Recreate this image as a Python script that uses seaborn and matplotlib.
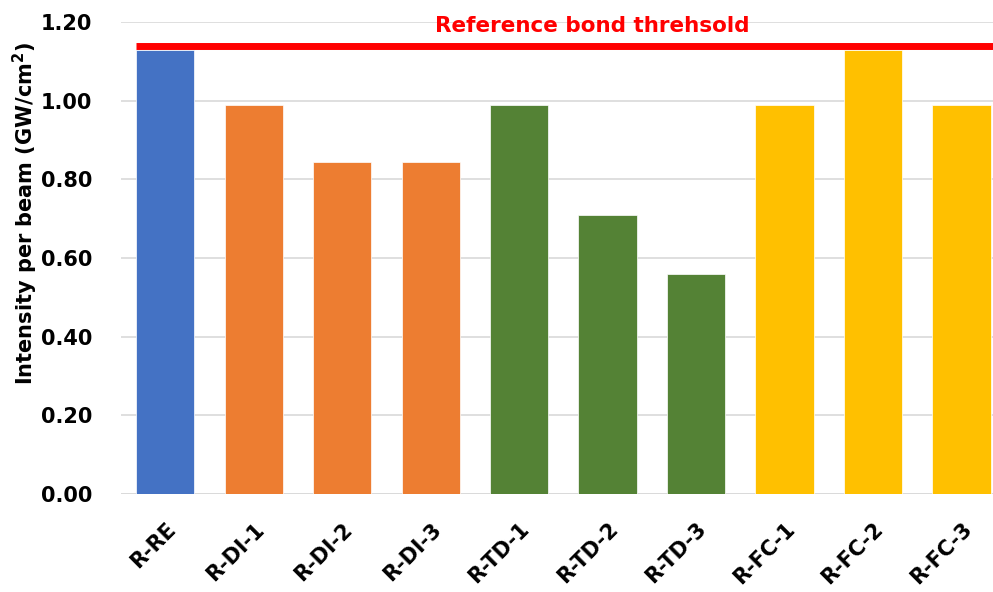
import matplotlib
matplotlib.use("Agg")
import matplotlib.pyplot as plt
import seaborn as sns
import pandas as pd

samples = ["R-RE", "R-DI-1", "R-DI-2", "R-DI-3", "R-TD-1", "R-TD-2", "R-TD-3",
           "R-FC-1", "R-FC-2", "R-FC-3"]
groups = ["RE", "DI", "DI", "DI", "TD", "TD", "TD", "FC", "FC", "FC"]
intensity = [1.13, 0.99, 0.845, 0.845, 0.99, 0.71, 0.56, 0.99, 1.13, 0.99]
threshold = 1.14
threshold_label = "Reference bond threhsold"
y_ticks = [0.0, 0.2, 0.4, 0.6, 0.8, 1.0, 1.2]

group_colors = {"RE": "#4472C4", "DI": "#ED7D31", "TD": "#548235", "FC": "#FFC000"}

df = pd.DataFrame({"sample": samples, "group": groups, "intensity": intensity})

sns.set_theme(style="white")
plt.rcParams["font.family"] = ["DejaVu Sans"]
plt.rcParams["text.color"] = "black"
plt.rcParams["axes.labelcolor"] = "black"
plt.rcParams["xtick.color"] = "black"
plt.rcParams["ytick.color"] = "black"

fig = plt.figure(figsize=(9.93, 5.92), dpi=100)
ax = fig.add_axes([0.1219, 0.1655, 0.891, 0.797])

sns.barplot(data=df, x="sample", y="intensity", hue="group", palette=group_colors,
            dodge=False, width=0.66, saturation=1, legend=False, ax=ax,
            edgecolor="white", linewidth=0.5, zorder=2)

ax.set_ylim(0, 1.2)
ax.set_xlim(-0.5, len(samples) - 0.5)
ax.set_yticks(y_ticks)
ax.set_yticklabels([f"{v:.2f}" for v in y_ticks], fontsize=15, fontweight="bold")
ax.set_xticks(range(len(samples)))
ax.set_xticklabels(samples, rotation=45, ha="right", rotation_mode="anchor",
                   fontsize=15, fontweight="bold")
ax.tick_params(axis="both", length=0)
ax.tick_params(axis="y", pad=21)
ax.tick_params(axis="x", pad=18)

ax.yaxis.grid(True, color="#D9D9D9", linewidth=1.2, zorder=0)
ax.set_axisbelow(True)
for s in ax.spines.values():
    s.set_visible(False)
ax.axhline(0, color="#D9D9D9", linewidth=1.2, zorder=1)

ax.set_xlabel("")
ax.set_ylabel("Intensity per beam (GW/cm$^\\mathbf{2}$)", fontsize=15,
              fontweight="bold")
ax.yaxis.set_label_coords(-0.092, 0.595)

# threshold line starting at the left edge of the first bar
ax.plot([-0.33, len(samples) - 0.5], [threshold, threshold], color="#FF0000",
        linewidth=5, solid_capstyle="butt", zorder=3, clip_on=False)
ax.text(4.83, 1.19, threshold_label, color="#FF0000", fontsize=15.5,
        fontweight="bold", ha="center", va="center")

fig.savefig("out.png", dpi=100)
